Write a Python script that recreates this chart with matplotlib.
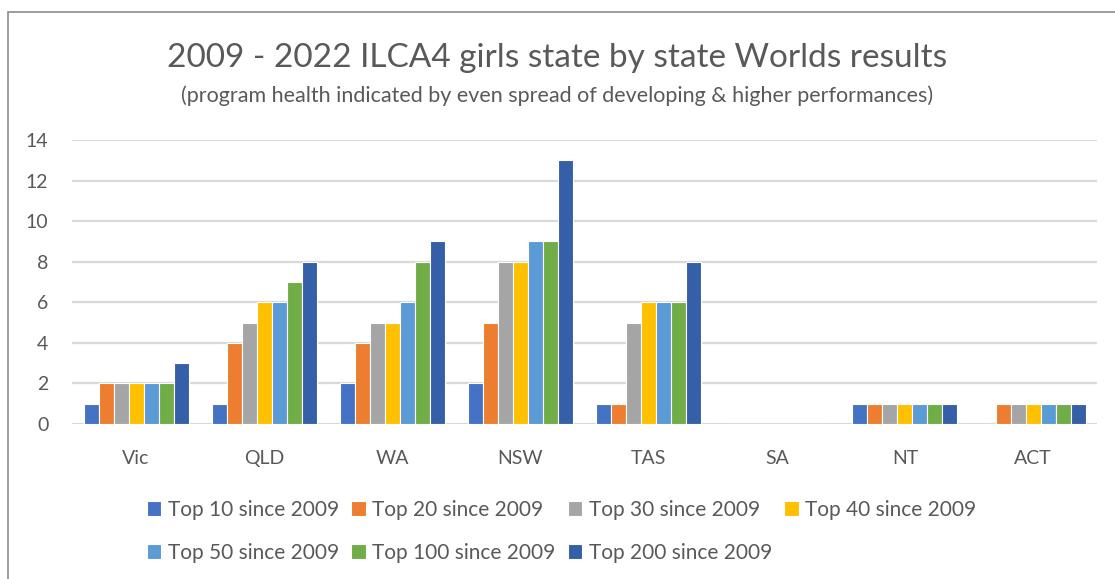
import matplotlib.pyplot as plt
import matplotlib.patches as mpatches
import numpy as np

# state by state counts
states = ['Vic', 'QLD', 'WA', 'NSW', 'TAS', 'SA', 'NT', 'ACT']
series_names = ['Top 10 since 2009', 'Top 20 since 2009', 'Top 30 since 2009',
                'Top 40 since 2009', 'Top 50 since 2009', 'Top 100 since 2009',
                'Top 200 since 2009']
top10 = [1, 1, 2, 2, 1, 0, 1, 0]
top20 = [2, 4, 4, 5, 1, 0, 1, 1]
top30 = [2, 5, 5, 8, 5, 0, 1, 1]
top40 = [2, 6, 5, 8, 6, 0, 1, 1]
top50 = [2, 6, 6, 9, 6, 0, 1, 1]
top100 = [2, 7, 8, 9, 6, 0, 1, 1]
top200 = [3, 8, 9, 13, 8, 0, 1, 1]
colors = ['#4472C4', '#ED7D31', '#A5A5A5', '#FFC000', '#5B9BD5', '#70AD47', '#355FA6']

plt.rcParams['font.family'] = ['Lato', 'DejaVu Sans']
text_col = '#595959'

fig = plt.figure(figsize=(11.15, 5.79), dpi=100)
ax = fig.add_axes([0.0646, 0.2677, 0.9194, 0.4905])

# outer chart frame (cropped on the right and bottom)
fig.patches.append(mpatches.Rectangle((8 / 1115, -0.05), 1.2, 1 - 12 / 579 + 0.05,
                                      transform=fig.transFigure, fill=False,
                                      edgecolor='#8c8c8c', linewidth=1.2))

all_series = [top10, top20, top30, top40, top50, top100, top200]
x = np.arange(len(states))
step = 0.117
for i, (vals, name, c) in enumerate(zip(all_series, series_names, colors)):
    ax.bar(x + (i - 3) * step, vals, width=step, color=c, edgecolor='white',
           linewidth=0.8, label=name, zorder=3)

ax.set_xlim(-0.5, len(states) - 0.5)
ax.set_ylim(0, 14)
ax.set_yticks(range(0, 15, 2))
ax.set_xticks(x)
ax.set_xticklabels(states)
ax.grid(axis='y', color='#d9d9d9', linewidth=1.6, zorder=0)
for s in ax.spines.values():
    s.set_visible(False)
ax.tick_params(length=0, labelsize=14, colors=text_col)
ax.tick_params(axis='x', pad=19)
ax.tick_params(axis='y', pad=17)

fig.text(0.5, 1 - 58 / 579, '2009 - 2022 ILCA4 girls state by state Worlds results',
         ha='center', va='center', fontsize=24, color=text_col)
fig.text(0.5, 1 - 96 / 579, '(program health indicated by even spread of developing & higher performances)',
         ha='center', va='center', fontsize=15.5, color=text_col)

# legend is filled column by column, so reorder to get rows like Excel
handles, labels = ax.get_legend_handles_labels()
order = [0, 4, 1, 5, 2, 6, 3]
fig.legend([handles[i] for i in order], [labels[i] for i in order], ncol=4,
           loc='upper left', bbox_to_anchor=(128 / 1115, 1 - 481 / 579),
           frameon=False, fontsize=15, labelcolor=text_col, handlelength=0.7,
           handleheight=0.7, handletextpad=0.3, columnspacing=0.6, labelspacing=1.1)

plt.savefig('out.png', dpi=100)
